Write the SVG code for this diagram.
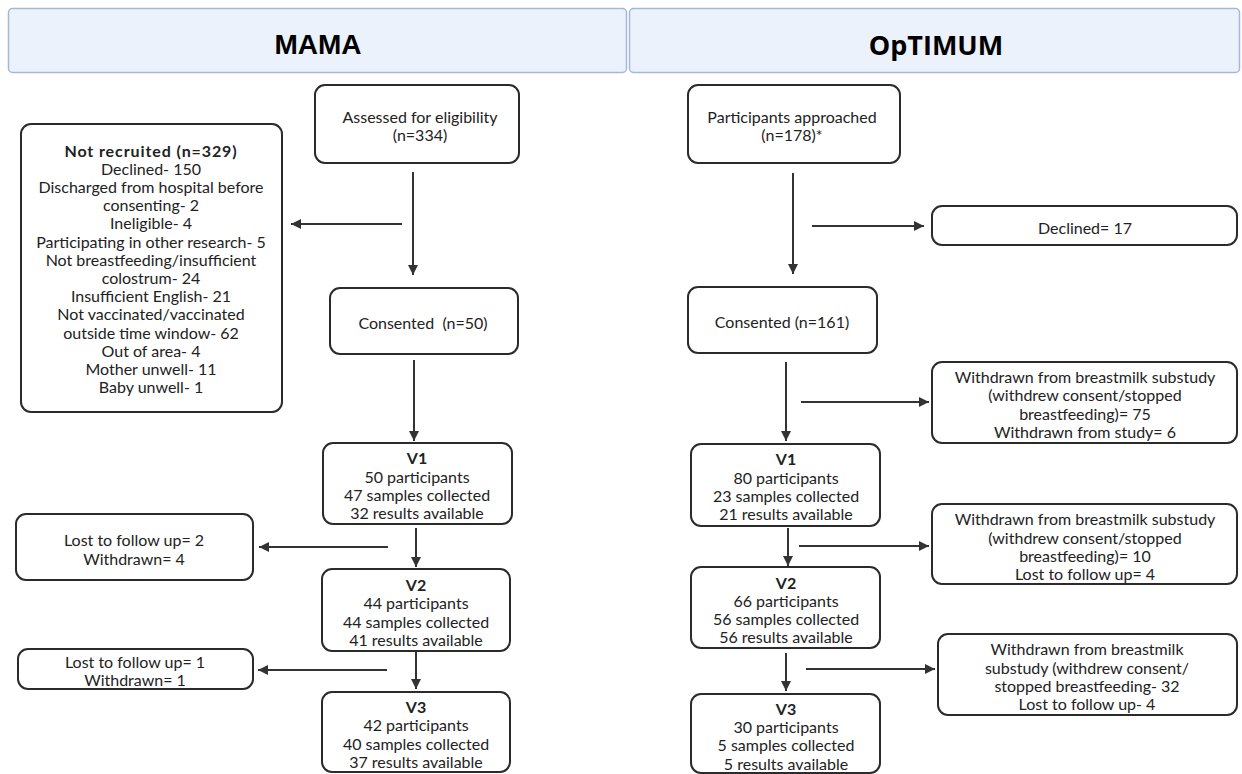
<svg xmlns="http://www.w3.org/2000/svg" width="1242" height="774" viewBox="0 0 1242 774">
<style>
.hdr{fill:#ebf2fb;stroke:#a3b8da;stroke-width:1.5}
.hdrt{font-family:"Liberation Sans",Arial,sans-serif;font-weight:bold;font-size:28px;fill:#000;text-anchor:middle;dominant-baseline:central}
.box{fill:#fff;stroke:#2b2b2b;stroke-width:2}
.t{font-family:Lato,"Open Sans",sans-serif;font-size:16px;fill:#222;text-anchor:middle;dominant-baseline:central}
.b{font-weight:bold}
.c{stroke:#333;stroke-width:2;fill:none;marker-end:url(#ah)}
</style>
<defs>
<marker id="ah" viewBox="0 0 10 10" refX="10" refY="5" markerWidth="5" markerHeight="5" orient="auto" markerUnits="strokeWidth">
<path d="M0,0 L10,5 L0,10 z" fill="#333"/>
</marker>
</defs>
<rect width="1242" height="774" fill="#fff"/>
<g id="hdr-mama"><rect class="hdr" x="8.5" y="8.5" width="618" height="64" rx="4"/><text class="hdrt" x="318" y="44">MAMA</text></g>
<g id="hdr-optimum"><rect class="hdr" x="629.5" y="8.5" width="610" height="64" rx="4"/><text class="hdrt" x="936" y="44" style="font-family:'Open Sans',sans-serif;font-size:27px">OpTIMUM</text></g>

<g id="connectors">
<line class="c" x1="413" y1="172" x2="413" y2="275"/>
<line class="c" x1="402" y1="224" x2="291" y2="224"/>
<line class="c" x1="414" y1="360" x2="414" y2="441"/>
<line class="c" x1="416" y1="528" x2="416" y2="567"/>
<line class="c" x1="388" y1="547" x2="259" y2="547"/>
<line class="c" x1="416" y1="652" x2="416" y2="689"/>
<line class="c" x1="387" y1="670" x2="258" y2="670"/>
<line class="c" x1="793" y1="173" x2="793" y2="274"/>
<line class="c" x1="812" y1="226" x2="924" y2="226"/>
<line class="c" x1="786" y1="362" x2="786" y2="441"/>
<line class="c" x1="801" y1="402" x2="929" y2="402"/>
<line class="c" x1="788" y1="528" x2="788" y2="566"/>
<line class="c" x1="799" y1="546" x2="929" y2="546"/>
<line class="c" x1="786" y1="653" x2="786" y2="691"/>
<line class="c" x1="806" y1="669" x2="935" y2="669"/>
</g>

<g id="assessed"><rect class="box" x="315" y="85" width="204" height="78" rx="10"/>
<text class="t" x="420" y="116">Assessed for eligibility</text><text class="t" x="420" y="134">(n=334)</text></g>

<g id="not-recruited"><rect class="box" x="21" y="124" width="261" height="288" rx="10"/>
<text class="t b" x="151" y="150" style="letter-spacing:0.9px">Not recruited (n=329)</text>
<text class="t" x="151" y="168.2">Declined- 150</text>
<text class="t" x="151" y="186.4">Discharged from hospital before</text>
<text class="t" x="151" y="204.6">consenting- 2</text>
<text class="t" x="151" y="222.8">Ineligible- 4</text>
<text class="t" x="151" y="241">Participating in other research- 5</text>
<text class="t" x="151" y="259.2">Not breastfeeding/insufficient</text>
<text class="t" x="151" y="277.4">colostrum- 24</text>
<text class="t" x="151" y="295.6">Insufficient English- 21</text>
<text class="t" x="151" y="313.8">Not vaccinated/vaccinated</text>
<text class="t" x="151" y="332">outside time window- 62</text>
<text class="t" x="151" y="350.2">Out of area- 4</text>
<text class="t" x="151" y="368.4">Mother unwell- 11</text>
<text class="t" x="151" y="386.6">Baby unwell- 1</text></g>

<g id="consented-mama"><rect class="box" x="330" y="288" width="188" height="66" rx="10"/>
<text class="t" x="423" y="322" xml:space="preserve">Consented  (n=50)</text></g>

<g id="v1-mama"><rect class="box" x="323" y="443" width="189" height="81" rx="10"/>
<text class="t b" x="417" y="457">V1</text><text class="t" x="417" y="476">50 participants</text><text class="t" x="417" y="494">47 samples collected</text><text class="t" x="417" y="512">32 results available</text></g>

<g id="lost-1"><rect class="box" x="16" y="514" width="237" height="66" rx="10"/>
<text class="t" x="134" y="539">Lost to follow up= 2</text><text class="t" x="134" y="558">Withdrawn= 4</text></g>

<g id="v2-mama"><rect class="box" x="322" y="569" width="188" height="82" rx="10"/>
<text class="t b" x="416" y="584">V2</text><text class="t" x="416" y="602">44 participants</text><text class="t" x="416" y="621">44 samples collected</text><text class="t" x="416" y="639">41 results available</text></g>

<g id="lost-2"><rect class="box" x="18" y="649" width="235" height="40" rx="10"/>
<text class="t" x="135" y="661">Lost to follow up= 1</text><text class="t" x="135" y="679">Withdrawn= 1</text></g>

<g id="v3-mama"><rect class="box" x="322" y="692" width="188" height="80" rx="10"/>
<text class="t b" x="416" y="706">V3</text><text class="t" x="416" y="724">42 participants</text><text class="t" x="416" y="743">40 samples collected</text><text class="t" x="416" y="761">37 results available</text></g>

<g id="approached"><rect class="box" x="688" y="85" width="212" height="78" rx="10"/>
<text class="t" x="792" y="116">Participants approached</text><text class="t" x="792" y="134">(n=178)*</text></g>

<g id="declined"><rect class="box" x="932" y="206" width="305" height="39" rx="10"/>
<text class="t" x="1085" y="227">Declined= 17</text></g>

<g id="consented-opt"><rect class="box" x="688" y="287" width="189" height="66" rx="10"/>
<text class="t" x="782" y="321">Consented (n=161)</text></g>

<g id="withdrawn-1"><rect class="box" x="932" y="362" width="305" height="81" rx="10"/>
<text class="t" x="1085" y="376">Withdrawn from breastmilk substudy</text><text class="t" x="1085" y="394">(withdrew consent/stopped</text><text class="t" x="1085" y="413">breastfeeding)= 75</text><text class="t" x="1085" y="431">Withdrawn from study= 6</text></g>

<g id="v1-opt"><rect class="box" x="691" y="444" width="189" height="82" rx="10"/>
<text class="t b" x="786" y="458">V1</text><text class="t" x="786" y="477">80 participants</text><text class="t" x="786" y="495">23 samples collected</text><text class="t" x="786" y="513">21 results available</text></g>

<g id="withdrawn-2"><rect class="box" x="932" y="504" width="305" height="80" rx="10"/>
<text class="t" x="1085" y="518">Withdrawn from breastmilk substudy</text><text class="t" x="1085" y="537">(withdrew consent/stopped</text><text class="t" x="1085" y="555">breastfeeding)= 10</text><text class="t" x="1085" y="573">Lost to follow up= 4</text></g>

<g id="v2-opt"><rect class="box" x="691" y="567" width="189" height="81" rx="10"/>
<text class="t b" x="786" y="582">V2</text><text class="t" x="786" y="600">66 participants</text><text class="t" x="786" y="618">56 samples collected</text><text class="t" x="786" y="636">56 results available</text></g>

<g id="withdrawn-3"><rect class="box" x="938" y="634" width="299" height="81" rx="10"/>
<text class="t" x="1087" y="648">Withdrawn from breastmilk</text><text class="t" x="1087" y="667">substudy (withdrew consent/</text><text class="t" x="1087" y="685">stopped breastfeeding- 32</text><text class="t" x="1087" y="703">Lost to follow up- 4</text></g>

<g id="v3-opt"><rect class="box" x="691" y="694" width="189" height="79" rx="10"/>
<text class="t b" x="786" y="708">V3</text><text class="t" x="786" y="726">30 participants</text><text class="t" x="786" y="744">5 samples collected</text><text class="t" x="786" y="763">5 results available</text></g>
</svg>
